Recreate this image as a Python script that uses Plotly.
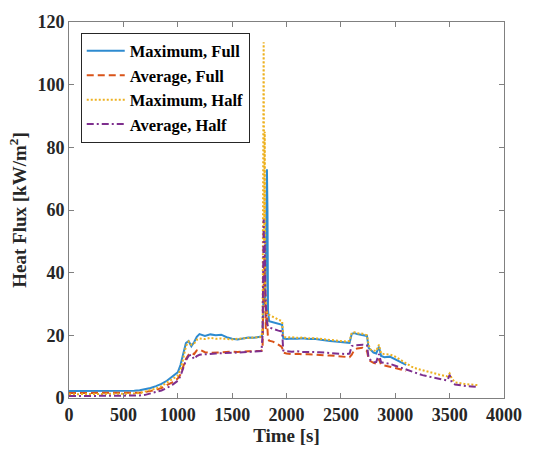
import plotly.graph_objects as go

time_s = [0, 100, 200, 300, 400, 500, 600, 650, 700, 750, 800, 850, 900, 950, 1000,
          1025, 1050, 1075, 1100, 1125, 1150, 1175, 1200, 1250, 1300, 1350, 1400, 1450,
          1500, 1550, 1600, 1650, 1700, 1750, 1770, 1780, 1785, 1790, 1795, 1800, 1805,
          1810, 1815, 1820, 1825, 1830, 1840, 1875, 1900, 1925, 1950, 1960, 1970, 2000,
          2050, 2100, 2150, 2200, 2250, 2300, 2350, 2400, 2450, 2500, 2550, 2580, 2600,
          2625, 2650, 2700, 2740, 2755, 2770, 2800, 2825, 2850, 2870, 2900, 2950, 3000,
          3050, 3100, 3150, 3200, 3250, 3300, 3350, 3400, 3450, 3480, 3500, 3520, 3550,
          3600, 3650, 3700, 3760]

max_full = [2.2, 2.2, 2.3, 2.2, 2.2, 2.3, 2.3, 2.5, 2.8, 3.2, 3.8, 4.5, 5.5, 6.8, 8.2,
            10.5, 14.0, 17.5, 18.2, 16.5, 17.8, 19.5, 20.4, 19.8, 20.3, 20.0, 20.2, 19.4,
            18.9, 18.7, 19.0, 19.3, 19.2, 19.5, 19.6, 20.5, 28, 35, 30, 40, 30,
            45, 55, 73, 60, 28, 24.5, 24.2, 24.0, 23.8, 23.6, 23.4, 19.0, 18.8,
            19.0, 18.9, 19.1, 18.8, 18.9, 18.6, 18.4, 18.2, 18.0, 17.8, 17.5, 17.6, 20.5,
            20.7, 20.4, 20.2, 19.8, 16.0, 15.5, 14.5, 14.2, 16.4, 13.4, 13.0, 13.2, 12.4,
            11.6, 10.6, None, None, None, None, None, None, None, None, None, None, None,
            None, None, None, None]

avg_full = [1.6, 1.6, 1.6, 1.6, 1.6, 1.6, 1.6, 1.7, 1.9, 2.2, 2.6, 3.2, 4.0, 5.0, 6.2,
            7.5, 10.0, 12.5, 13.8, 14.4, 14.0, 15.2, 15.5, 14.6, 14.4, 14.5, 14.7, 14.6,
            14.8, 14.7, 14.9, 14.9, 15.0, 15.0, 15.1, 16, 25, 35, 45, 38, 30,
            22, 25, 28, 22, 19, 18.3, 18.0, 17.5, 17.0, 16.5, 16.0, 14.5, 14.2,
            14.0, 14.1, 13.9, 14.0, 13.8, 13.7, 13.6, 13.6, 13.4, 13.2, 13.0, 13.0, 13.8,
            15.5, 15.8, 16.0, 15.0, 12.5, 11.8, 11.2, 11.0, 12.4, 10.6, 10.3, 10.0, 9.6,
            9.1, 8.6, None, None, None, None, None, None, None, None, None, None, None,
            None, None, None, None]

max_half = [1.2, 1.2, 1.3, 1.2, 1.2, 1.3, 1.4, 1.6, 2.0, 2.5, 3.0, 3.8, 4.8, 6.0, 7.2,
            9.0, 12.5, 16.5, 18.0, 17.0, 17.3, 18.6, 19.0, 18.8, 19.2, 18.9, 19.0, 18.8,
            18.7, 18.9, 19.1, 19.3, 19.3, 19.4, 19.5, 22, 60, 113.5, 50, 85, 35,
            28, 27, 27.5, 27, 26.8, 26.5, 26.0, 25.5, 25.0, 24.8, 24.5, 19.5, 19.3,
            19.4, 19.2, 19.3, 19.0, 19.1, 18.9, 18.8, 18.6, 18.4, 18.3, 18.0, 18.2, 20.8,
            21.0, 20.7, 20.5, 20.0, 17.0, 15.5, 15.2, 15.0, 17.0, 14.2, 14.0, 13.9, 13.2,
            12.2, 11.2, 10.0, 9.3, 8.8, 8.3, 7.9, 7.5, 7.1, 6.9, 7.8, 6.2, 5.0,
            4.6, 4.4, 4.3, 4.1]

avg_half = [0.6, 0.6, 0.6, 0.6, 0.6, 0.6, 0.7, 0.8, 1.0, 1.4, 1.8, 2.4, 3.2, 4.2, 5.5,
            7.0, 9.5, 12.0, 13.5, 13.8, 12.4, 13.4, 13.8, 14.0, 14.1, 14.2, 14.3, 14.3,
            14.4, 14.5, 14.6, 14.7, 14.8, 14.8, 15.0, 20, 45, 57, 45, 50, 35,
            28, 25, 24, 23, 22.8, 22.5, 22.0, 21.8, 21.5, 21.3, 21.0, 15.2, 14.9,
            14.8, 14.9, 14.7, 14.8, 14.7, 14.6, 14.5, 14.4, 14.3, 14.1, 14.0, 14.2, 16.6,
            16.8, 16.9, 17.0, 16.8, 12.8, 12.2, 11.4, 11.5, 14.0, 11.4, 11.2, 10.9, 10.3,
            9.7, 9.2, 8.4, 7.9, 7.3, 6.9, 6.5, 6.1, 5.8, 5.6, 7.4, 5.0, 4.3,
            4.0, 3.8, 3.7, 3.5]

x_ticks = [0, 500, 1000, 1500, 2000, 2500, 3000, 3500, 4000]
y_ticks = [0, 20, 40, 60, 80, 100, 120]

series = [
    ("Maximum, Full", max_full, "#2E8BD0", "solid"),
    ("Average, Full", avg_full, "#D95319", "7px,4px"),
    ("Maximum, Half", max_half, "#EDB120", "2px,2px"),
    ("Average, Half", avg_half, "#7E2F8E", "7px,3px,2px,3px"),
]

FONT = "Liberation Serif"

fig = go.Figure()
for name, vals, color, dash in series:
    fig.add_trace(go.Scatter(x=time_s, y=vals, mode="lines", name=name,
                             line=dict(color=color, width=2, dash=dash),
                             connectgaps=False))

axis_common = dict(showline=True, linecolor="#808080", linewidth=1, mirror="ticks",
                   ticks="inside", ticklen=5, tickcolor="#808080", showgrid=False,
                   zeroline=False,
                   tickfont=dict(family=FONT, size=18, color="#262626", weight="bold"))

fig.update_layout(
    width=534, height=454,
    margin=dict(l=69, r=20, t=13, b=52),
    paper_bgcolor="white", plot_bgcolor="white",
    showlegend=True,
    legend=dict(x=0.027, y=0.972, xanchor="left", yanchor="top",
                bgcolor="white", bordercolor="#262626", borderwidth=1,
                itemwidth=38,
                font=dict(family=FONT, size=16.5, color="#000000", weight="bold"),
                tracegroupgap=0),
    xaxis=dict(range=[0, 4000], tickvals=x_ticks,
               title=dict(text="Time [s]", standoff=4,
                          font=dict(family=FONT, size=19, color="#262626", weight="bold")),
               **axis_common),
    yaxis=dict(range=[0, 120], tickvals=y_ticks,
               title=dict(text="Heat Flux [kW/m<sup>2</sup>]", standoff=5,
                          font=dict(family=FONT, size=19, color="#262626", weight="bold")),
               **axis_common),
)

fig.write_html("out.html")
